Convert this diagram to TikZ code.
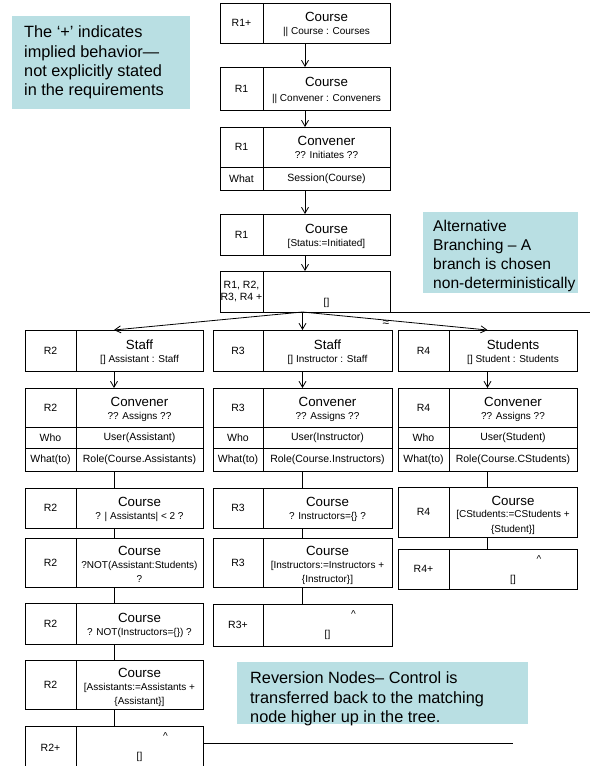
\documentclass[tikz,border=0pt]{standalone}
\usepackage{fontspec}
\setmainfont{Liberation Sans}
\usetikzlibrary{arrows.meta,calc}
\definecolor{callbg}{RGB}{185,223,227}
\newcommand\colA{0}\newcommand\colB{0}\newcommand\colC{0}
\newcommand\setcol[3]{\renewcommand\colA{#1}\renewcommand\colB{#2}\renewcommand\colC{#3}}
\tikzset{
 bxs/.style={draw, line width=0.8pt, inner sep=0pt, outer sep=0pt, rectangle},
 bxl/.style={line width=0.8pt},
 lbl/.style={font=\fontsize{10.5}{12}\selectfont, inner sep=0pt, align=center},
 ttl/.style={font=\fontsize{13.3}{15}\selectfont, inner sep=0pt, text height=9.5pt, text depth=0pt},
 sbt/.style={font=\fontsize{10}{12}\selectfont, inner sep=0pt, text height=7.2pt, text depth=1.8pt},
 rowt/.style={font=\fontsize{10.5}{12}\selectfont, inner sep=0pt, text height=7.5pt, text depth=2pt},
 arr/.style={line width=0.8pt, -{Straight Barb[length=6pt,width=7pt]}},
 con/.style={line width=0.8pt},
 callout/.style={fill=callbg, draw=none, inner sep=0pt, outer sep=0pt, rectangle},
 ctext/.style={font=\fontsize{16.3}{19.3}\selectfont, align=left, inner sep=0pt},
 ctextb/.style={font=\fontsize{15.6}{18.7}\selectfont, align=left, inner sep=0pt},
}
% frame: name, y1, y2, label
\newcommand\frm[4]{%
  \node[bxs, minimum width={\colC-\colA}, minimum height={#3-#2}] (#1) at ({(\colA+\colC)/2},{(#2+#3)/2}) {};
  \draw[bxl] (\colB,#2) -- (\colB,#3);
  \node[lbl] (#1-l) at ({(\colA+\colB)/2},{(#2+#3)/2}) {#4};}
% two-line box
\newcommand\tbox[6]{\frm{#1}{#2}{#3}{#4}
  \node[ttl] (#1-t) at ({(\colB+\colC)/2},{#2+0.35*(#3-#2)}) {#5};
  \node[sbt] (#1-s) at ({(\colB+\colC)/2},{#2+0.73*(#3-#2)}) {#6};}
% three-line box
\newcommand\cbox[7]{\frm{#1}{#2}{#3}{#4}
  \node[ttl] (#1-t) at ({(\colB+\colC)/2},{#2+0.27*(#3-#2)}) {#5};
  \node[sbt] (#1-s) at ({(\colB+\colC)/2},{#2+0.56*(#3-#2)}) {#6};
  \node[sbt] (#1-u) at ({(\colB+\colC)/2},{#2+0.85*(#3-#2)}) {#7};}
% row box
\newcommand\rbox[5]{\frm{#1}{#2}{#3}{#4}
  \node[rowt] (#1-c) at ({(\colB+\colC)/2},{(#2+#3)/2}) {#5};}
% reversion box
\newcommand\revbox[4]{\frm{#1}{#2}{#3}{#4}
  \node[sbt] (#1-h) at ({(\colB+\colC)/2+26},{#2+11}) {\textasciicircum};
  \node[sbt] (#1-e) at ({(\colB+\colC)/2},{#2+31}) {[]};}

\begin{document}
\begin{tikzpicture}[x=1pt,y=-1pt]
\useasboundingbox (0,0) rectangle (600,766);

% callouts
\node[callout, minimum width=178, minimum height=93] (c1) at (101,62.5) {};
\node[ctext, anchor=west] (c1t) at ([xshift=12pt]c1.west) {The ‘+’ indicates\\implied behavior—\\not explicitly stated\\in the requirements};
\node[callout, minimum width=155, minimum height=81] (c2) at (500.5,252.5) {};
\node[ctextb, anchor=west] (c2t) at (433,256) {Alternative\\Branching – A\\branch is chosen\\non-deterministically};
\node[callout, minimum width=291, minimum height=62] (c3) at (382.5,693) {};
\node[ctext, anchor=west] (c3t) at (250,699) {Reversion Nodes– Control is\\transferred back to the matching\\node higher up in the tree.};

% top column
\setcol{220}{263}{390}
\tbox{t1}{3}{43}{R1+}{Course}{|| Course : Courses}
\tbox{t2}{67}{110}{R1}{Course}{|| Convener : Conveners}
\tbox{t3}{127}{167}{R1}{Convener}{?? Initiates ??}
\rbox{t3a}{167}{190}{What}{Session(Course)}
\tbox{t4}{214}{255}{R1}{Course}{[Status:=Initiated]}
\frm{t5}{271}{312}{R1, R2,\\R3, R4 +}
\node[sbt] (t5-e) at ({(\colB+\colC)/2},303) {[]};

% left column
\setcol{25}{76}{203}
\tbox{l1}{330}{371}{R2}{Staff}{[] Assistant : Staff}
\tbox{l2}{388}{427}{R2}{Convener}{?? Assigns ??}
\rbox{l2a}{427}{448}{Who}{User(Assistant)}
\rbox{l2b}{448}{471}{What(to)}{Role(Course.Assistants)}
\tbox{l3}{488}{528}{R2}{Course}{? | Assistants| < 2 ?}
\cbox{l4}{538}{587}{R2}{Course}{?NOT(Assistant:Students)}{?}
\tbox{l5}{603}{644}{R2}{Course}{? NOT(Instructors=\{\}) ?}
\cbox{l6}{660}{709}{R2}{Course}{[Assistants:=Assistants +}{\{Assistant\}]}
\revbox{l7}{726}{770}{R2+}

% middle column
\setcol{213}{263}{392}
\tbox{m1}{330}{371}{R3}{Staff}{[] Instructor : Staff}
\tbox{m2}{388}{427}{R3}{Convener}{?? Assigns ??}
\rbox{m2a}{427}{448}{Who}{User(Instructor)}
\rbox{m2b}{448}{471}{What(to)}{Role(Course.Instructors)}
\tbox{m3}{488}{528}{R3}{Course}{? Instructors=\{\} ?}
\cbox{m4}{538}{587}{R3}{Course}{[Instructors:=Instructors +}{\{Instructor\}]}
\revbox{m5}{604}{646}{R3+}

% right column
\setcol{398}{449}{577}
\tbox{r1}{330}{371}{R4}{Students}{[] Student : Students}
\tbox{r2}{388}{427}{R4}{Convener}{?? Assigns ??}
\rbox{r2a}{427}{448}{Who}{User(Student)}
\rbox{r2b}{448}{471}{What(to)}{Role(Course.CStudents)}
\cbox{r3}{487}{537}{R4}{Course}{[CStudents:=CStudents +}{\{Student\}]}
\revbox{r4}{549}{589}{R4+}

% top connectors
\draw[arr] (t1.south) -- (t2.north);
\draw[arr] (t2.south) -- (t3.north);
\draw[arr] (t3a.south) -- (t4.north);
\draw[arr] (t4.south) -- (t5.north);

% branching
\coordinate (br) at (t5.south -| m1.north);
\draw[arr] (br) -- (l1.north);
\draw[arr] (br) -- (m1.north);
\draw[arr] (br) -- (r1.north);
\node[font=\fontsize{12}{13}\selectfont, inner sep=0pt] (alt) at (386,324) {≈};
\coordinate (e1) at (590,312);
\draw[con] (t5.south east) -- (e1);

% left connectors
\draw[arr] (l1.south) -- (l2.north);
\draw[con] (l2b.south) -- (l3.north);
\draw[con] (l3.south) -- (l4.north);
\draw[con] (l4.south) -- (l5.north);
\draw[con] (l5.south) -- (l6.north);
\draw[con] (l6.south) -- (l7.north);
\coordinate (e2) at (513,743);
\draw[con] (e2 -| l7.east) -- (e2);

% middle connectors
\draw[arr] (m1.south) -- (m2.north);
\draw[con] (m2b.south) -- (m3.north);
\draw[con] (m3.south) -- (m4.north);
\draw[con] (m4.south) -- (m5.north);

% right connectors
\draw[arr] (r1.south) -- (r2.north);
\draw[con] (r2b.south) -- (r3.north);
\draw[con] (r3.south) -- (r4.north);
\end{tikzpicture}
\end{document}
